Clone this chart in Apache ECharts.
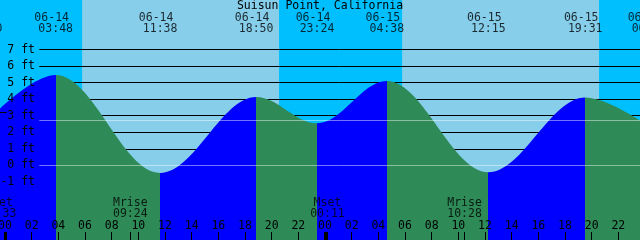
<!DOCTYPE html>
<html><head><meta charset="utf-8">
<script src="https://cdn.jsdelivr.net/npm/echarts@6/dist/echarts.min.js"></script>
<style>html,body{margin:0;padding:0;background:#87CEEB}#c{width:640px;height:240px}</style>
</head><body><div id="c"></div>
<script>
// ---- data ----
const chartTitle = 'Suisun Point, California';
const tideDates   = ['06-13','06-14','06-14','06-14','06-14','06-15','06-15','06-15','06-16'];
const tideTimes   = ['22:30','03:48','11:38','18:50','23:24','04:38','12:15','19:31','00:18'];
const tideHeights = [2.55, 5.46, -0.46, 4.13, 2.54, 5.10, -0.42, 4.10, 2.35];
const moonEvents  = ['Mset','Mrise','Mset','Mrise'];
const moonDates   = ['06-13','06-14','06-15','06-15'];
const moonTimes   = ['23:33','09:24','00:11','10:28'];
const nightStartDates = ['06-13','06-14','06-15'];
const nightStartTimes = ['20:32','20:33','20:33'];
const nightEndDates   = ['06-14','06-15','06-16'];
const nightEndTimes   = ['05:47','05:47','05:48'];
const ftLabels   = [-1,0,1,2,3,4,5,6,7];
const gridLevels = [1,2,3,4,5,6,7];
const refLevels  = [0, 2.72];
const markerLevel = 3.22;
const hourTicks  = [0,2,4,6,8,10,12,14,16,18,20,22,24,26,28,30,32,34,36,38,40,42,44,46];
const midnightTicks = [0,24];

// ---- layout constants ----
const X_MIN = -0.375, X_MAX = 47.625;
const FONT = 'DejaVu Sans Mono', FS = 11.5;
const LINE_START = 2.57;
const ROW_DATE = 8.92, ROW_TIME = 8.22, ROW_MNAME = -2.25, ROW_MTIME = -2.92;
const BLUE = '#0000FF', GREEN = '#2E8B57', DAY = '#87CEEB', NIGHT = '#00BFFF';

function toH(d, t) {
  const day = parseInt(d.slice(3), 10) - 14;
  const [hh, mm] = t.split(':').map(Number);
  return day * 24 + hh + mm / 60;
}
const tideH = tideDates.map((d, i) => toH(d, tideTimes[i]));
const moonH = moonDates.map((d, i) => toH(d, moonTimes[i]));
const nights = nightStartDates.map((d, i) => [toH(d, nightStartTimes[i]), toH(nightEndDates[i], nightEndTimes[i])]);

const pieces = [];
for (let i = 0; i < tideH.length - 1; i++) {
  const p = { gte: tideH[i], color: tideHeights[i + 1] > tideHeights[i] ? BLUE : GREEN };
  if (i === tideH.length - 2) p.lte = tideH[i + 1]; else p.lt = tideH[i + 1];
  pieces.push(p);
}
const pad2 = v => String(((v % 24) + 24) % 24).padStart(2, '0');
const txt = { color: '#000', fontFamily: FONT, fontSize: FS };

function labelSeries(points, fmt, offset) {
  return {
    type: 'scatter', clip: false, silent: true, symbolSize: 1, z: 6,
    itemStyle: { color: 'transparent' },
    label: Object.assign({ show: true, position: 'inside', formatter: fmt, offset: offset || [0, 0] }, txt),
    data: points
  };
}

const xBase = { type: 'value', min: X_MIN, max: X_MAX, position: 'bottom', offset: -16, z: 10,
  axisLine: { show: false, onZero: false }, splitLine: { show: false } };

const option = {
  animation: false,
  backgroundColor: DAY,
  title: { text: chartTitle, left: 'center', top: 0, padding: 0, z: 10,
    textStyle: Object.assign({ fontWeight: 'normal' }, txt) },
  grid: { left: 0, right: 0, top: 0, bottom: -8, containLabel: false, outerBoundsMode: 'none' },
  xAxis: [
    Object.assign({}, xBase, {
      axisTick: { show: true, customValues: hourTicks, length: 8, lineStyle: { color: '#000', width: 1 } },
      axisLabel: Object.assign({ show: true, inside: true, customValues: hourTicks, margin: 0, formatter: pad2,
        showMinLabel: true, showMaxLabel: true }, txt)
    }),
    Object.assign({}, xBase, {
      axisTick: { show: true, customValues: midnightTicks, length: 8, lineStyle: { color: '#000', width: 3 } },
      axisLabel: { show: false }
    }),
    Object.assign({}, xBase, {
      axisTick: { show: true, customValues: moonH, length: 8, lineStyle: { color: '#000', width: 1 } },
      axisLabel: { show: false }
    })
  ],
  yAxis: { type: 'value', min: -5, max: 10, interval: 1, position: 'left', offset: -36, z: 10,
    axisLine: { show: false, onZero: false }, axisTick: { show: false }, splitLine: { show: false },
    axisLabel: Object.assign({ margin: 1, showMinLabel: false, showMaxLabel: false,
      formatter: v => ftLabels.includes(v) ? v + ' ft' : '' }, txt) },
  visualMap: { show: false, type: 'piecewise', dimension: 0, seriesIndex: 1, pieces: pieces },
  series: [
    { type: 'line', data: [], silent: true,
      markArea: { silent: true, z: 0, itemStyle: { color: NIGHT, opacity: 1 },
        data: nights.map(n => [{ xAxis: n[0] }, { xAxis: n[1] }]) },
      markLine: { silent: true, z: 1, symbol: 'none', animation: false, label: { show: false },
        lineStyle: { color: '#000', width: 1, type: 'solid' },
        data: gridLevels.map(l => [{ coord: [LINE_START, l] }, { coord: [X_MAX, l] }]) } },
    { type: 'line', z: 2, smooth: 0.36, smoothMonotone: 'x', showSymbol: false, silent: true,
      data: tideH.map((h, i) => [h, tideHeights[i]]),
      lineStyle: { width: 0, opacity: 0 },
      areaStyle: { opacity: 1, origin: 'start' } },
    { type: 'line', data: [], silent: true,
      markLine: { silent: true, z: 3, symbol: 'none', animation: false, label: { show: false },
        lineStyle: { color: 'rgba(255,255,255,0.45)', width: 1, type: 'solid' },
        data: refLevels.map(l => [{ coord: [LINE_START, l] }, { coord: [X_MAX, l] }]).concat([
          [{ coord: [X_MIN, markerLevel], lineStyle: { color: '#000' } }, { coord: [X_MIN + 0.5, markerLevel] }]
        ]) } },
    labelSeries(tideH.map((h, i) => [h, ROW_DATE, tideDates[i]]), p => p.data[2], [-4, 0]),
    labelSeries(tideH.map((h, i) => [h, ROW_TIME, tideTimes[i]]), p => p.data[2]),
    labelSeries(moonH.map((h, i) => [h, ROW_MNAME, moonEvents[i]]), p => p.data[2]),
    labelSeries(moonH.map((h, i) => [h, ROW_MTIME, moonTimes[i]]), p => p.data[2])
  ]
};
const chart = echarts.init(document.getElementById('c'), null, { renderer: 'canvas' });
chart.setOption(option);
</script></body></html>
